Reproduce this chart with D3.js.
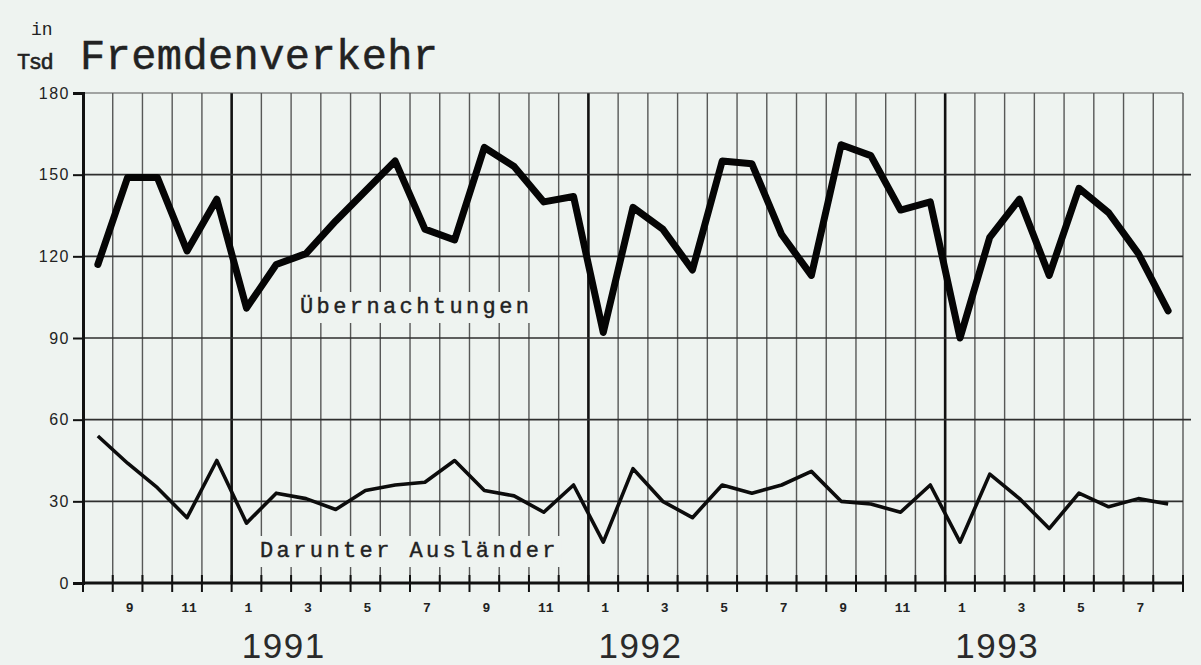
<!DOCTYPE html>
<html>
<head>
<meta charset="utf-8">
<script src="https://cdn.jsdelivr.net/npm/d3@7"></script>
<style>
  body { margin: 0; background: #eef3f0; }
  svg { display: block; }
</style>
</head>
<body>
<div id="chart"></div>
<script>
// months from Aug 1990 to Aug 1993
const months = ["8","9","10","11","12",
  "1","2","3","4","5","6","7","8","9","10","11","12",
  "1","2","3","4","5","6","7","8","9","10","11","12",
  "1","2","3","4","5","6","7","8"];
const years = ["1991", "1992", "1993"];
const yTicks = [0, 30, 60, 90, 120, 150, 180];

// in Tsd
const uebernachtungen = [117, 149, 149, 122, 141,
  101, 117, 121, 133, 144, 155, 130, 126, 160, 153, 140, 142,
  92, 138, 130, 115, 155, 154, 128, 113, 161, 157, 137, 140,
  90, 127, 141, 113, 145, 136, 121, 100];
const auslaender = [54, 44, 35, 24, 45,
  22, 33, 31, 27, 34, 36, 37, 45, 34, 32, 26, 36,
  15, 42, 30, 24, 36, 33, 36, 41, 30, 29, 26, 36,
  15, 40, 31, 20, 33, 28, 31, 29];

const width = 1201, height = 665;
const bg = "#eef3f0";
const mono = "'Liberation Mono', 'DejaVu Sans Mono', monospace";
const sans = "'Liberation Sans', Arial, sans-serif";

const svg = d3.select("#chart").append("svg")
  .attr("width", width)
  .attr("height", height);

svg.append("rect").attr("width", width).attr("height", height).attr("fill", bg);

const x = d3.scaleLinear().domain([0, months.length]).range([83, 1183]);
const y = d3.scaleLinear().domain([0, 180]).range([583, 93]);

// year boundaries: index where month "1" starts
const yearStarts = months.map((m, i) => m === "1" ? i : -1).filter(i => i >= 0);

// vertical month grid
const grid = svg.append("g");
grid.selectAll("line.v")
  .data(d3.range(1, months.length + 1))
  .join("line")
  .attr("class", "v")
  .attr("x1", d => x(d)).attr("x2", d => x(d))
  .attr("y1", y(180)).attr("y2", y(0))
  .attr("stroke", d => yearStarts.includes(d) ? "#111" : "#3c3c3c")
  .attr("stroke-width", d => yearStarts.includes(d) ? 2.6 : 1.4)
  .attr("stroke-opacity", d => yearStarts.includes(d) ? 1 : 0.85);

// horizontal grid
grid.selectAll("line.h")
  .data(yTicks.filter(t => t > 0))
  .join("line")
  .attr("class", "h")
  .attr("x1", x(0)).attr("x2", d => (d === 60 || d === 150) ? x(months.length) + 8 : x(months.length))
  .attr("y1", d => y(d)).attr("y2", d => y(d))
  .attr("stroke", d => d === 180 ? "#555" : "#2e2e2e")
  .attr("stroke-width", d => d === 180 ? 1.2 : 1.6);

// series labels with background patches over the grid
function seriesLabel(text, lx, ly) {
  const g = svg.append("g");
  const r = g.append("rect").attr("fill", bg);
  const t = g.append("text")
    .attr("x", lx).attr("y", ly)
    .attr("font-family", mono)
    .attr("font-size", 22)
    .attr("letter-spacing", 3.4)
    .attr("fill", "#222")
    .attr("stroke", "#222")
    .attr("stroke-width", 0.4)
    .text(text);
  const b = t.node().getBBox();
  r.attr("x", b.x - 5).attr("y", b.y - 3)
    .attr("width", b.width + 8).attr("height", b.height + 6);
}
seriesLabel("Übernachtungen", 300, 313);
seriesLabel("Darunter Ausländer", 260, 557);

// y axis
const yAxis = svg.append("g")
  .attr("transform", `translate(${x(0)},0)`)
  .call(d3.axisLeft(y).tickValues(yTicks).tickSize(10).tickPadding(3));
yAxis.attr("font-size", null).attr("font-family", null);
yAxis.select(".domain").attr("stroke", "#111").attr("stroke-width", 3);
yAxis.selectAll(".tick line").attr("stroke", "#111").attr("stroke-width", 2);
yAxis.selectAll(".tick text")
  .style("font-family", sans)
  .style("font-size", "16px")
  .attr("letter-spacing", 1.5)
  .attr("fill", "#222");

// x axis
svg.append("line")
  .attr("x1", x(0)).attr("x2", x(months.length))
  .attr("y1", y(0)).attr("y2", y(0))
  .attr("stroke", "#111").attr("stroke-width", 3);
svg.append("g").selectAll("line")
  .data(d3.range(0, months.length + 1))
  .join("line")
  .attr("x1", d => x(d)).attr("x2", d => x(d))
  .attr("y1", y(0) - 8).attr("y2", y(0) + 9)
  .attr("stroke", "#111").attr("stroke-width", 2);

// month labels (odd months)
svg.append("g").selectAll("text")
  .data(months.map((m, i) => ({ m, i })).filter(d => +d.m % 2 === 1))
  .join("text")
  .attr("x", d => x(d.i + 0.5) + 2)
  .attr("y", 612)
  .attr("text-anchor", "middle")
  .style("font-family", mono)
  .style("font-weight", "bold")
  .style("font-size", "13px")
  .attr("fill", "#222")
  .text(d => d.m);

// year labels
svg.append("g").selectAll("text")
  .data(years.map((yr, k) => ({ yr, i: yearStarts[k] })))
  .join("text")
  .attr("x", d => x(d.i + 1.75))
  .attr("y", 658)
  .attr("text-anchor", "middle")
  .style("font-family", sans)
  .style("font-size", "35px")
  .attr("letter-spacing", 1.5)
  .attr("fill", "#2a2a2a")
  .text(d => d.yr);

// lines
const line = d3.line()
  .x((d, i) => x(i + 0.5))
  .y(d => y(d));

svg.append("path")
  .datum(auslaender)
  .attr("d", line)
  .attr("fill", "none")
  .attr("stroke", "#0c0c0c")
  .attr("stroke-width", 3.6)
  .attr("stroke-linejoin", "round");

svg.append("path")
  .datum(uebernachtungen)
  .attr("d", line)
  .attr("fill", "none")
  .attr("stroke", "#050505")
  .attr("stroke-width", 7)
  .attr("stroke-linejoin", "round")
  .attr("stroke-linecap", "round");

// title
svg.append("text")
  .attr("x", 31).attr("y", 35)
  .style("font-family", mono)
  .style("font-size", "18px")
  .attr("fill", "#222")
  .text("in");
svg.append("text")
  .attr("x", 17).attr("y", 69)
  .style("font-family", mono)
  .style("font-size", "22px")
  .attr("letter-spacing", -1.5)
  .attr("fill", "#222")
  .attr("stroke", "#222")
  .attr("stroke-width", 0.6)
  .text("Tsd");
svg.append("text")
  .attr("x", 80).attr("y", 69)
  .style("font-family", mono)
  .style("font-size", "42px")
  .attr("letter-spacing", 0.4)
  .attr("fill", "#222")
  .attr("stroke", "#222")
  .attr("stroke-width", 0.5)
  .text("Fremdenverkehr");
</script>
</body>
</html>
